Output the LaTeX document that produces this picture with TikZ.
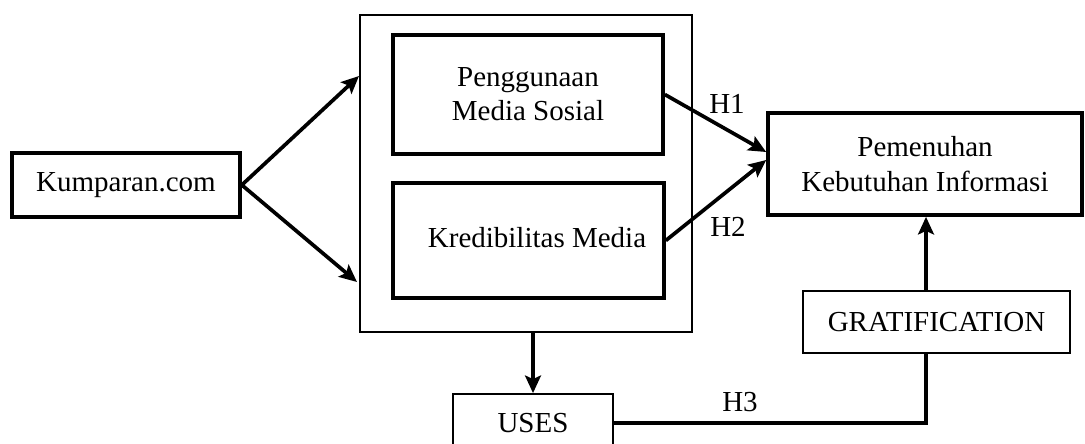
\documentclass[tikz,border=0pt]{standalone}
\usepackage{fontspec}
\setmainfont{Liberation Serif}
\usetikzlibrary{arrows.meta}
\begin{document}
\begin{tikzpicture}[x=0.02cm, y=-0.02cm, line join=miter, font=\fontsize{16.5}{19.5}\selectfont,
    >={Stealth[length=10pt,width=9pt,inset=2pt]},
    thickbox/.style={draw, line width=2.1pt, align=center, inner sep=0pt},
    thinbox/.style={draw, line width=1pt, align=center, inner sep=0pt},
    arrowline/.style={->, line width=2.1pt}]
    	\clip (0,0) rectangle (1085,443);
    	% boxes
    	\node[thinbox, minimum width=6.64cm, minimum height=6.34cm] (outer) at (526,173.5) {};
    	\node[thickbox, minimum width=4.56cm, minimum height=1.28cm] (kump) at (126,185) {Kumparan.com};
    	\node[thickbox, minimum width=5.4cm, minimum height=2.38cm] (peng) at (528,94.5) {Penggunaan\\Media Sosial};
    	\node[thickbox, minimum width=5.42cm, minimum height=2.3cm] (kred) at (528.5,240.5) {};
    	\node (kredtext) at (537,238) {Kredibilitas Media};
    	\node[thickbox, minimum width=6.28cm, minimum height=2.04cm] (pemen) at (925,164) {Pemenuhan\\Kebutuhan Informasi};
    	\node[thinbox, minimum width=5.34cm, minimum height=1.24cm] (grat) at (936.5,322) {GRATIFICATION};
    	\node[thinbox, minimum width=3.2cm, minimum height=1.16cm] (uses) at (533,423) {USES};
    	\coordinate (in1) at (359,76);
    	\coordinate (in2) at (357,282);
    	% arrows
    	\draw[arrowline] (kump.east)--(in1);
    	\draw[arrowline] (kump.east)--(in2);
    	\draw[arrowline] (peng.east)--([yshift=0.24cm]pemen.west);
    	\draw[arrowline] (kred.east)--([yshift=0.08cm]pemen.west);
    	\draw[arrowline] (outer.south -| uses.north)--(uses.north);
    	\draw[line width=2.1pt] (uses.east)-|([xshift=-0.21cm]grat.south);
    	\draw[arrowline] ([xshift=-0.21cm]grat.north)--([xshift=-0.21cm]grat.north |- pemen.south);
    	% labels
    	\draw (727,104)node(h1){H1} (728,227)node(h2){H2} (740,402)node(h3){H3};
    \end{tikzpicture}
\end{document}
